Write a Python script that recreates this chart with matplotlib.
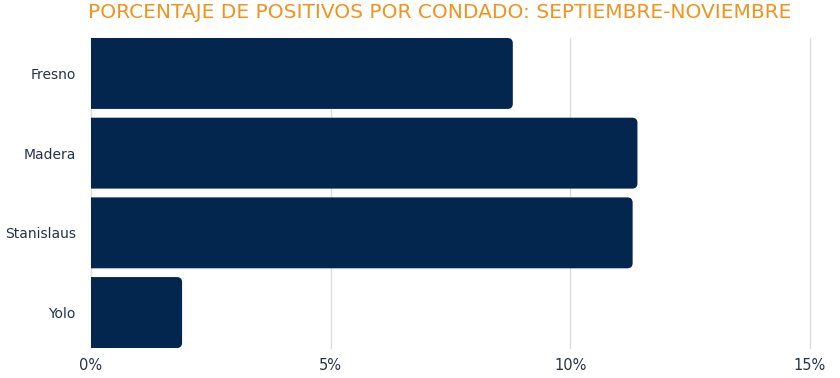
import matplotlib
matplotlib.use("Agg")
from matplotlib import pyplot as plt
from matplotlib.patches import FancyBboxPatch
from matplotlib.ticker import FuncFormatter

counties = ["Fresno", "Madera", "Stanislaus", "Yolo"]
pct_positive = [8.8, 11.4, 11.3, 1.9]
x_ticks = [0, 5, 10, 15]

bar_color = "#03264f"
text_color = "#27314a"
title_color = "#f0941f"

fig = plt.figure(figsize=(8.4, 3.78), dpi=100)
ax = fig.add_axes([91 / 840, 1 - 348 / 378, 719 / 840, 310 / 378])

h = 0.89
bars = ax.barh(range(len(counties)), pct_positive, height=h, color=bar_color)

# rounded right end; the box starts left of 0 so the left corners get clipped
r = 0.11
for b in bars:
    x, y = b.get_x(), b.get_y()
    w, bh = b.get_width(), b.get_height()
    b.set_visible(False)
    ax.add_patch(FancyBboxPatch((x - 0.5, y), w + 0.5, bh,
                                boxstyle=f"round,pad=0,rounding_size={r}",
                                mutation_aspect=0.6, linewidth=0,
                                facecolor=bar_color, zorder=2))

ax.set_xlim(0, 15)
ax.set_ylim(3 + h / 2, -h / 2)
ax.set_yticks(range(len(counties)))
ax.set_yticklabels(counties)
ax.set_xticks(x_ticks)
ax.xaxis.set_major_formatter(FuncFormatter(lambda v, p: f"{v:.0f}%"))

ax.grid(axis="x", color="#dddddd", linewidth=1)
for gl in ax.get_xgridlines():
    gl.set_clip_on(False)
ax.set_axisbelow(True)
for s in ax.spines.values():
    s.set_visible(False)
ax.tick_params(length=0, colors=text_color)
ax.tick_params(axis="x", pad=7, labelsize=10.5)
ax.tick_params(axis="y", pad=11, labelsize=10)

fig.text(440 / 840, 1 - 12 / 378, "PORCENTAJE DE POSITIVOS POR CONDADO: SEPTIEMBRE-NOVIEMBRE",
         ha="center", va="center", color=title_color, fontsize=14.5)

fig.savefig("out.png", dpi=100)
